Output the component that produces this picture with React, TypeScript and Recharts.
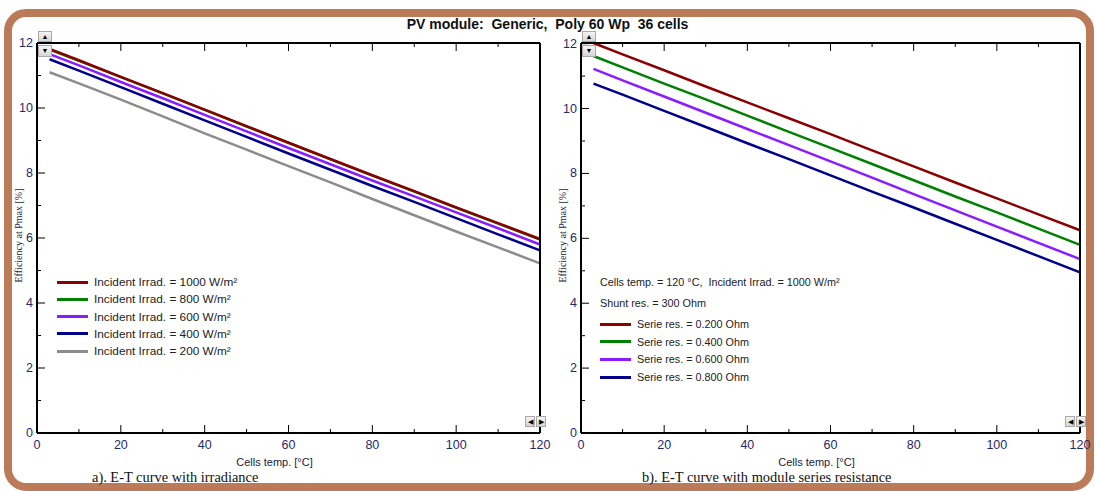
import React from "react";
import { LineChart, Line, XAxis, YAxis } from "recharts";

// Cells temperature [°C]
const TEMPS = [3, 10, 20, 30, 40, 50, 60, 70, 80, 90, 100, 110, 120];

// a) efficiency vs temperature for several irradiances
const IRR_1000 = [11.82, 11.47, 10.96, 10.46, 9.95, 9.44, 8.93, 8.43, 7.93, 7.44, 6.94, 6.46, 5.97];
const IRR_800 = [11.8, 11.45, 10.95, 10.45, 9.94, 9.43, 8.93, 8.42, 7.92, 7.43, 6.93, 6.44, 5.95];
const IRR_600 = [11.66, 11.31, 10.8, 10.3, 9.79, 9.28, 8.77, 8.27, 7.77, 7.28, 6.79, 6.3, 5.8];
const IRR_400 = [11.5, 11.15, 10.64, 10.13, 9.62, 9.11, 8.6, 8.1, 7.6, 7.11, 6.61, 6.11, 5.62];
const IRR_200 = [11.1, 10.76, 10.26, 9.74, 9.22, 8.72, 8.21, 7.71, 7.2, 6.7, 6.2, 5.71, 5.22];

// b) efficiency vs temperature for several series resistances
const RS_020 = [12.02, 11.67, 11.18, 10.68, 10.19, 9.7, 9.21, 8.71, 8.22, 7.72, 7.23, 6.74, 6.25];
const RS_040 = [11.62, 11.27, 10.77, 10.28, 9.78, 9.28, 8.79, 8.29, 7.79, 7.29, 6.8, 6.3, 5.8];
const RS_060 = [11.22, 10.87, 10.37, 9.87, 9.37, 8.87, 8.37, 7.87, 7.36, 6.86, 6.36, 5.86, 5.36];
const RS_080 = [10.77, 10.43, 9.93, 9.43, 8.93, 8.44, 7.94, 7.44, 6.95, 6.45, 5.95, 5.45, 4.95];

const X_TICKS = [0, 10, 20, 30, 40, 50, 60, 70, 80, 90, 100, 110, 120];
const Y_TICKS = [0, 1, 2, 3, 4, 5, 6, 7, 8, 9, 10, 11, 12];

const IRR_SERIES = [
  { key: "i1000", label: "Incident Irrad. = 1000 W/m²", values: IRR_1000, color: "#8b0000" },
  { key: "i800", label: "Incident Irrad. = 800 W/m²", values: IRR_800, color: "#008000" },
  { key: "i600", label: "Incident Irrad. = 600 W/m²", values: IRR_600, color: "#8a1cff" },
  { key: "i400", label: "Incident Irrad. = 400 W/m²", values: IRR_400, color: "#00008b" },
  { key: "i200", label: "Incident Irrad. = 200 W/m²", values: IRR_200, color: "#8c8c8c" },
];

const RS_SERIES = [
  { key: "r020", label: "Serie res. = 0.200 Ohm", values: RS_020, color: "#8b0000" },
  { key: "r040", label: "Serie res. = 0.400 Ohm", values: RS_040, color: "#008000" },
  { key: "r060", label: "Serie res. = 0.600 Ohm", values: RS_060, color: "#8a1cff" },
  { key: "r080", label: "Serie res. = 0.800 Ohm", values: RS_080, color: "#00008b" },
];

const SANS = "'Liberation Sans', Arial, sans-serif";
const SERIF = "'Liberation Serif', 'Times New Roman', serif";
const TICK_COLOR = "#1f2a6a";
const BROWN = "#bb7b58";

type Series = { key: string; label: string; values: number[]; color: string };

function buildRows(series: Series[]) {
  return TEMPS.map((t, i) => {
    const row: Record<string, number> = { t };
    series.forEach((s) => (row[s.key] = s.values[i]));
    return row;
  });
}

// eslint-disable-next-line @typescript-eslint/no-explicit-any
function BottomTick({ x, y, payload }: any) {
  const major = payload.value % 20 === 0;
  return (
    <g>
      <line x1={x} y1={y} x2={x} y2={y - (major ? 8 : 4)} stroke="#000" strokeWidth={1} />
      {major && (
        <text x={x} y={y + 16} textAnchor="middle" fontSize={12.5} fontFamily={SANS} fill={TICK_COLOR}>
          {payload.value}
        </text>
      )}
    </g>
  );
}

// eslint-disable-next-line @typescript-eslint/no-explicit-any
function TopTick({ x, y, payload }: any) {
  const major = payload.value % 20 === 0;
  return <line x1={x} y1={y} x2={x} y2={y + (major ? 8 : 4)} stroke="#000" strokeWidth={1} />;
}

// eslint-disable-next-line @typescript-eslint/no-explicit-any
function LeftTick({ x, y, payload }: any) {
  const major = payload.value % 2 === 0;
  return (
    <g>
      <line x1={x} y1={y} x2={x + (major ? 8 : 4)} y2={y} stroke="#000" strokeWidth={1} />
      {major && (
        <text x={x - 4} y={y + 4} textAnchor="end" fontSize={12.5} fontFamily={SANS} fill={TICK_COLOR}>
          {payload.value}
        </text>
      )}
    </g>
  );
}

// eslint-disable-next-line @typescript-eslint/no-explicit-any
function RightTick({ x, y, payload }: any) {
  const major = payload.value % 2 === 0;
  return <line x1={x} y1={y} x2={x - (major ? 8 : 4)} y2={y} stroke="#000" strokeWidth={1} />;
}

const btn: React.CSSProperties = {
  position: "absolute",
  background: "linear-gradient(#f4f4f4, #d6d6d6)",
  border: "1px solid #a8a8a8",
  boxSizing: "border-box",
  fontSize: 7,
  lineHeight: "9px",
  textAlign: "center",
  color: "#000",
  fontFamily: SANS,
};

const AXIS_LINE = { stroke: "#000", strokeWidth: 2 };

function Panel({
  left,
  width,
  marginRight,
  series,
}: {
  left: number;
  width: number;
  marginRight: number;
  series: Series[];
}) {
  const rows = buildRows(series);
  return (
    <div style={{ position: "absolute", left, top: 0, width, height: 491 }}>
      <LineChart
        width={width}
        height={491}
        data={rows}
        margin={{ top: 42, right: marginRight - 1, bottom: 57, left: 36 }}
      >
        <XAxis
          dataKey="t"
          type="number"
          domain={[0, 120]}
          ticks={X_TICKS}
          interval={0}
          height={1}
          tickSize={0}
          tickMargin={0}
          tick={BottomTick}
          axisLine={AXIS_LINE}
        />
        <XAxis
          xAxisId="top"
          dataKey="t"
          orientation="top"
          type="number"
          domain={[0, 120]}
          ticks={X_TICKS}
          interval={0}
          height={1}
          tickSize={0}
          tickMargin={0}
          tick={TopTick}
          axisLine={AXIS_LINE}
        />
        <YAxis
          type="number"
          domain={[0, 12]}
          ticks={Y_TICKS}
          interval={0}
          width={1}
          tickSize={0}
          tickMargin={0}
          tick={LeftTick}
          axisLine={AXIS_LINE}
        />
        <YAxis
          yAxisId="right"
          orientation="right"
          type="number"
          domain={[0, 12]}
          ticks={Y_TICKS}
          interval={0}
          width={1}
          tickSize={0}
          tickMargin={0}
          tick={RightTick}
          axisLine={AXIS_LINE}
        />
        {[...series].reverse().map((s) => (
          <Line
            key={s.key}
            dataKey={s.key}
            stroke={s.color}
            strokeWidth={2.5}
            dot={false}
            activeDot={false}
            isAnimationActive={false}
          />
        ))}
      </LineChart>
      {/* scroll buttons */}
      <div style={{ ...btn, left: 38, top: 31, width: 14, height: 11 }}>▲</div>
      <div style={{ ...btn, left: 38, top: 45, width: 14, height: 12 }}>▼</div>
      <div style={{ ...btn, left: width - marginRight - 15, top: 416, width: 10, height: 11 }}>◀</div>
      <div style={{ ...btn, left: width - marginRight - 4, top: 416, width: 10, height: 11 }}>▶</div>
      <div
        style={{
          position: "absolute",
          left: 18 - 80,
          top: 237 - 7,
          width: 160,
          textAlign: "center",
          transform: "rotate(-90deg)",
          fontFamily: SERIF,
          fontSize: 10,
          color: "#1a1a40",
        }}
      >
        Efficiency at Pmax [%]
      </div>
      <div
        style={{
          position: "absolute",
          left: 37 + (width - marginRight - 37) / 2 - 14 - 60,
          top: 456,
          width: 120,
          textAlign: "center",
          fontFamily: SANS,
          fontSize: 11,
          color: "#1a1a40",
        }}
      >
        Cells temp. [°C]
      </div>
    </div>
  );
}

function LegendRows({
  series,
  left,
  top,
  gap,
  fontSize,
}: {
  series: Series[];
  left: number;
  top: number;
  gap: number;
  fontSize: number;
}) {
  return (
    <>
      {series.map((s, i) => (
        <div
          key={s.key}
          style={{
            position: "absolute",
            left,
            top: top + i * gap,
            display: "flex",
            alignItems: "center",
            fontFamily: SANS,
            fontSize,
            color: "#222",
            whiteSpace: "nowrap",
          }}
        >
          <span style={{ display: "inline-block", width: 31, height: 3, background: s.color, marginRight: 6 }} />
          {s.label}
        </div>
      ))}
    </>
  );
}

export default function App() {
  return (
    <div
      style={{
        position: "absolute",
        left: 0,
        top: 0,
        width: 1095,
        height: 491,
        background: "#fff",
        overflow: "hidden",
      }}
    >
      <div
        style={{
          position: "absolute",
          left: 4,
          top: 9,
          width: 1090,
          height: 482,
          border: `8px solid ${BROWN}`,
          borderRadius: 22,
          boxSizing: "border-box",
        }}
      />
      <div
        style={{
          position: "absolute",
          left: 0,
          top: 16,
          width: 1095,
          textAlign: "center",
          fontFamily: SANS,
          fontWeight: "bold",
          fontSize: 14,
          color: "#111",
          whiteSpace: "pre",
        }}
      >
        {"PV module:  Generic,  Poly 60 Wp  36 cells"}
      </div>

      <Panel left={0} width={560} marginRight={20} series={IRR_SERIES} />
      <Panel left={544} width={551} marginRight={15} series={RS_SERIES} />

      <LegendRows series={IRR_SERIES} left={57} top={275} gap={17.3} fontSize={11.8} />

      <div style={{ position: "absolute", left: 600, top: 276, fontFamily: SANS, fontSize: 10.8, color: "#222", whiteSpace: "pre" }}>
        {"Cells temp. = 120 °C,  Incident Irrad. = 1000 W/m²"}
      </div>
      <div style={{ position: "absolute", left: 600, top: 297, fontFamily: SANS, fontSize: 10.8, color: "#222" }}>
        Shunt res. = 300 Ohm
      </div>
      <LegendRows series={RS_SERIES} left={600} top={318} gap={17.7} fontSize={10.8} />

      <div style={{ position: "absolute", left: 92, top: 469, fontFamily: SERIF, fontSize: 14.4, color: "#111", whiteSpace: "nowrap" }}>
        a). E-T curve with irradiance
      </div>
      <div style={{ position: "absolute", left: 642, top: 469, fontFamily: SERIF, fontSize: 14.4, color: "#111", whiteSpace: "nowrap" }}>
        b). E-T curve with module series resistance
      </div>
    </div>
  );
}
